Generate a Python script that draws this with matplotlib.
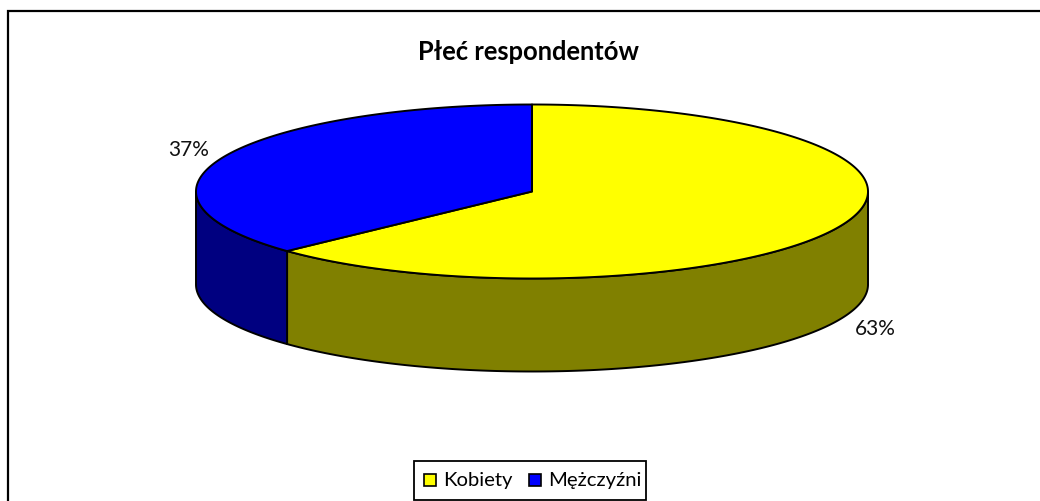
import numpy as np
import matplotlib
matplotlib.use("Agg")
import matplotlib.pyplot as plt
from matplotlib.patches import Polygon, Rectangle

plt.rcParams['font.family'] = ['Lato', 'DejaVu Sans']

# dane
kategorie = ["Kobiety", "Mężczyźni"]
wartosci = [63, 37]
etykiety = ["63%", "37%"]
tytul = "Płeć respondentów"

kolory_gora = ["#ffff00", "#0000ff"]
kolory_bok = ["#808000", "#000080"]

# geometria w pikselach obrazka
cx, cy = 532, 192.5
rx, ry = 336, 87
glebokosc = 93

fig = plt.figure(figsize=(10.4, 5.02), dpi=100)
ax = fig.add_axes([0, 0, 1, 1])
ax.set_xlim(0, 1040)
ax.set_ylim(502, 0)
ax.axis("off")

# ramka wykresu
ax.add_patch(Rectangle((7.5, 11.5), 1100, 600, fc="white", ec="black", lw=1.6, zorder=0))


def punkty(a, b):
    # kat liczony od godziny 12 zgodnie z ruchem wskazowek
    t = np.radians(np.linspace(a, b, 300))
    return cx + rx * np.sin(t), cy - ry * np.cos(t)


total = sum(wartosci)
katy = np.cumsum([0] + wartosci) / total * 360

# boki - tylko widoczna przednia czesc (od 90 do 270 stopni)
for i in range(len(wartosci)):
    a = max(katy[i], 90)
    b = min(katy[i + 1], 270)
    if a >= b:
        continue
    x, y = punkty(a, b)
    xy = np.r_[np.c_[x, y], np.c_[x[::-1], y[::-1] + glebokosc]]
    ax.add_patch(Polygon(xy, fc=kolory_bok[i], ec="black", lw=1.4, joinstyle="round", zorder=2))

# gora
for i in range(len(wartosci)):
    x, y = punkty(katy[i], katy[i + 1])
    xy = np.r_[[[cx, cy]], np.c_[x, y]]
    ax.add_patch(Polygon(xy, fc=kolory_gora[i], ec="black", lw=1.4, joinstyle="round", zorder=3))

ax.text(528, 52, tytul, fontsize=18.4, fontweight="bold", ha="center", va="center", color="black")

ax.text(875, 329, etykiety[0], fontsize=15, ha="center", va="center", color="#111111")
ax.text(189, 150, etykiety[1], fontsize=15, ha="center", va="center", color="#111111")

# legenda
ax.add_patch(Rectangle((413.5, 461.5), 232, 39, fc="white", ec="black", lw=1.3, zorder=4))
for i, (nazwa, kx, tx) in enumerate(zip(kategorie, [423.5, 528.5], [443, 548])):
    ax.add_patch(Rectangle((kx, 475), 12, 12, fc=kolory_gora[i], ec="black", lw=1.2, zorder=5))
    ax.text(tx, 481, nazwa, fontsize=14.6, ha="left", va="center", color="black", zorder=5)

fig.savefig("out.png", dpi=100)
